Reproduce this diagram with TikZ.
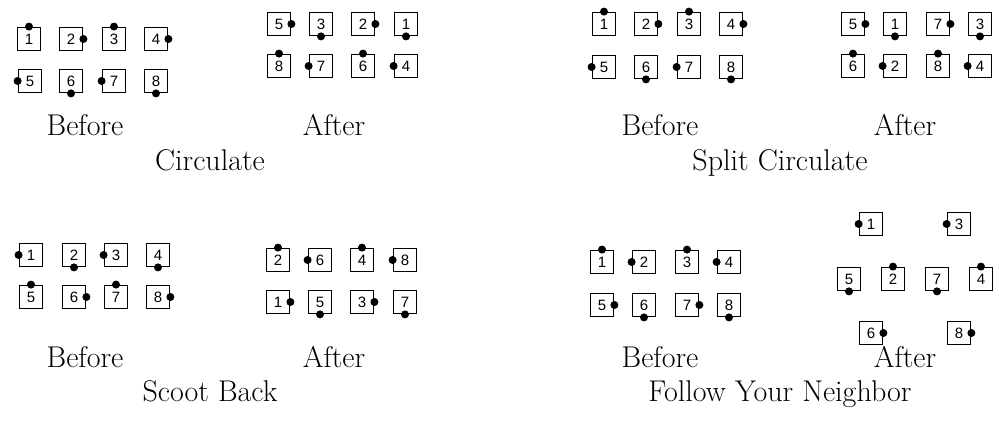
\documentclass[tikz,border=0pt]{standalone}
\usepackage{fontspec}
\newfontfamily\numfont{Liberation Sans}
\usetikzlibrary{positioning}
\begin{document}
\begin{tikzpicture}[x=1pt,y=-1pt,
  every node/.style={font=\fontsize{30}{36}\selectfont},
  dancer/.style={draw,line width=1.8pt,minimum size=23pt,inner sep=0pt,font=\numfont\fontsize{15}{18}\selectfont},
  figlabel/.style={anchor=base}]
\useasboundingbox (0,0) rectangle (999,435);
\foreach \p/\x/\y/\n/\s in {
  cb/29/39/1/north,cb/71/39/2/east,cb/114/39/3/north,cb/156/39/4/east,
  cb/30/81/5/west,cb/71/81/6/south,cb/114/81/7/west,cb/156/81/8/south,
  ca/279/24/5/east,ca/321/24/3/south,ca/363/24/2/east,ca/406/24/1/south,
  ca/279/66/8/north,ca/321/66/7/west,ca/363/66/6/north,ca/406/66/4/west,
  sb/604/24/1/north,sb/646/24/2/east,sb/689/24/3/north,sb/731/24/4/east,
  sb/604/67/5/west,sb/646/67/6/south,sb/689/67/7/west,sb/731/67/8/south,
  sa/853/24/5/east,sa/895/24/1/south,sa/938/24/7/east,sa/980/24/3/south,
  sa/853/66/6/north,sa/895/66/2/west,sa/938/66/8/north,sa/980/66/4/west,
  kb/31/255/1/west,kb/74/255/2/south,kb/116/255/3/west,kb/158/255/4/south,
  kb/31/297/5/north,kb/74/297/6/east,kb/116/297/7/north,kb/158/297/8/east,
  ka/278/260/2/north,ka/320/260/6/west,ka/362/260/4/north,ka/405/260/8/west,
  ka/278/302/1/east,ka/320/302/5/south,ka/362/302/3/east,ka/405/302/7/south,
  fb/602/262/1/north,fb/644/262/2/west,fb/687/262/3/north,fb/729/262/4/west,
  fb/602/305/5/east,fb/644/305/6/south,fb/687/305/7/east,fb/729/305/8/south,
  fa/871/224/1/west,fa/959/224/3/west,
  fa/849/279/5/south,fa/893/279/2/north,fa/937/279/7/south,fa/981/279/4/north,
  fa/871/333/6/east,fa/959/333/8/east}{
\node[dancer] (\p\n) at (\x,\y) {\n};
\fill (\p\n.\s) circle (4pt);}
\foreach \p/\x/\y/\t in {cbef/85/136/Before,caft/334/136/After,cname/210/171/Circulate,
  sbef/660/136/Before,saft/905/136/After,sname/780/171/Split Circulate,
  kbef/85/368/Before,kaft/334/368/After,kname/210/402/Scoot Back,
  fbef/660/368/Before,faft/905/368/After,fname/780/402/Follow Your Neighbor}
  \node[figlabel] (\p) at (\x,\y) {\t};
\end{tikzpicture}
\end{document}
